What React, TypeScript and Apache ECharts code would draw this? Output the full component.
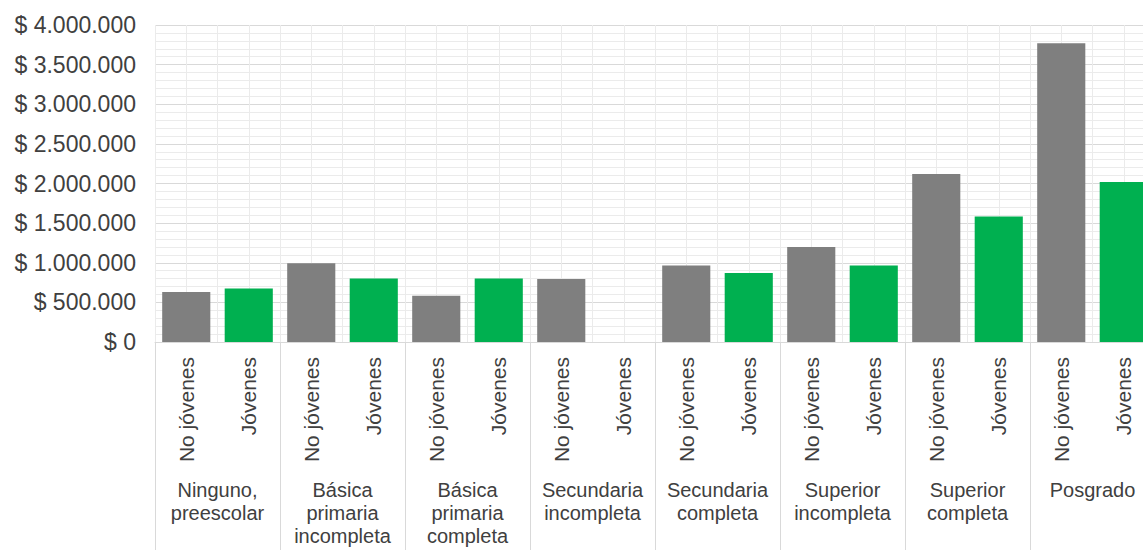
import React, { useEffect, useRef } from "react";
import * as echarts from "echarts";

const categories = [
  "Ninguno,\npreescolar",
  "Básica\nprimaria\nincompleta",
  "Básica\nprimaria\ncompleta",
  "Secundaria\nincompleta",
  "Secundaria\ncompleta",
  "Superior\nincompleta",
  "Superior\ncompleta",
  "Posgrado",
];
const subgroups = ["No jóvenes", "Jóvenes"];
const noJovenes = [630000, 995000, 585000, 795000, 965000, 1200000, 2120000, 3770000];
const jovenes = [675000, 800000, 800000, null, 870000, 965000, 1585000, 2020000];
const colors = ["#7f7f7f", "#00b050"];

const FONT = "'Liberation Sans', Arial, sans-serif";

function fmt(v: number): string {
  if (v === 0) return "$ 0";
  const s = String(Math.round(v)).replace(/\B(?=(\d{3})+(?!\d))/g, ".");
  return "$ " + s;
}

export default function App() {
  const ref = useRef<HTMLDivElement>(null);
  useEffect(() => {
    document.body.style.margin = "0";
    const chart = echarts.init(ref.current!, undefined, { renderer: "svg" });
    const barCats: string[] = [];
    const barData: any[] = [];
    categories.forEach((_, i) => {
      [noJovenes[i], jovenes[i]].forEach((v, j) => {
        barCats.push(subgroups[j]);
        barData.push({ value: v, itemStyle: { color: colors[j] } });
      });
    });
    chart.setOption({
      animation: false,
      grid: {
        left: 155,
        top: 25,
        bottom: 208,
        right: -12,
        containLabel: false,
        outerBoundsMode: "none",
      },
      xAxis: [
        {
          type: "category",
          data: barCats,
          gridIndex: 0,
          position: "bottom",
          axisLine: { show: true, lineStyle: { color: "#d9d9d9", width: 1 } },
          axisTick: { show: false },
          axisLabel: {
            rotate: 90,
            interval: 0,
            margin: 15,
            fontFamily: FONT,
            fontSize: 21,
            color: "#404040",
          },
          splitLine: { show: false },
        },
        {
          type: "category",
          data: categories,
          gridIndex: 0,
          position: "bottom",
          axisLine: { show: false },
          axisTick: { show: true, length: 210, lineStyle: { color: "#d9d9d9", width: 1 } },
          axisLabel: {
            interval: 0,
            margin: 136,
            fontFamily: FONT,
            fontSize: 20,
            lineHeight: 23,
            color: "#404040",
            verticalAlign: "top",
          },
          splitLine: { show: false },
        },
        {
          type: "value",
          gridIndex: 0,
          position: "top",
          min: 0,
          max: 32,
          interval: 1,
          axisLine: { show: false },
          axisTick: { show: false },
          axisLabel: { show: false },
          splitLine: { show: true, lineStyle: { color: "#ebebeb", width: 1 } },
        },
      ],
      yAxis: {
        type: "value",
        min: 0,
        max: 4000000,
        interval: 500000,
        axisLine: { show: false },
        axisTick: { show: false },
        axisLabel: {
          margin: 19,
          formatter: (v: number) => fmt(v),
          fontFamily: FONT,
          fontSize: 23,
          color: "#404040",
        },
        splitLine: { show: true, lineStyle: { color: "#d9d9d9", width: 1 } },
        minorTick: { show: false, splitNumber: 5 },
        minorSplitLine: { show: true, lineStyle: { color: "#ebebeb", width: 1 } },
      },
      series: [
        {
          type: "bar",
          xAxisIndex: 0,
          yAxisIndex: 0,
          data: barData,
          barWidth: "77%",
        },
      ],
    });
    return () => chart.dispose();
  }, []);
  return <div ref={ref} style={{ width: 1143, height: 550 }} />;
}
